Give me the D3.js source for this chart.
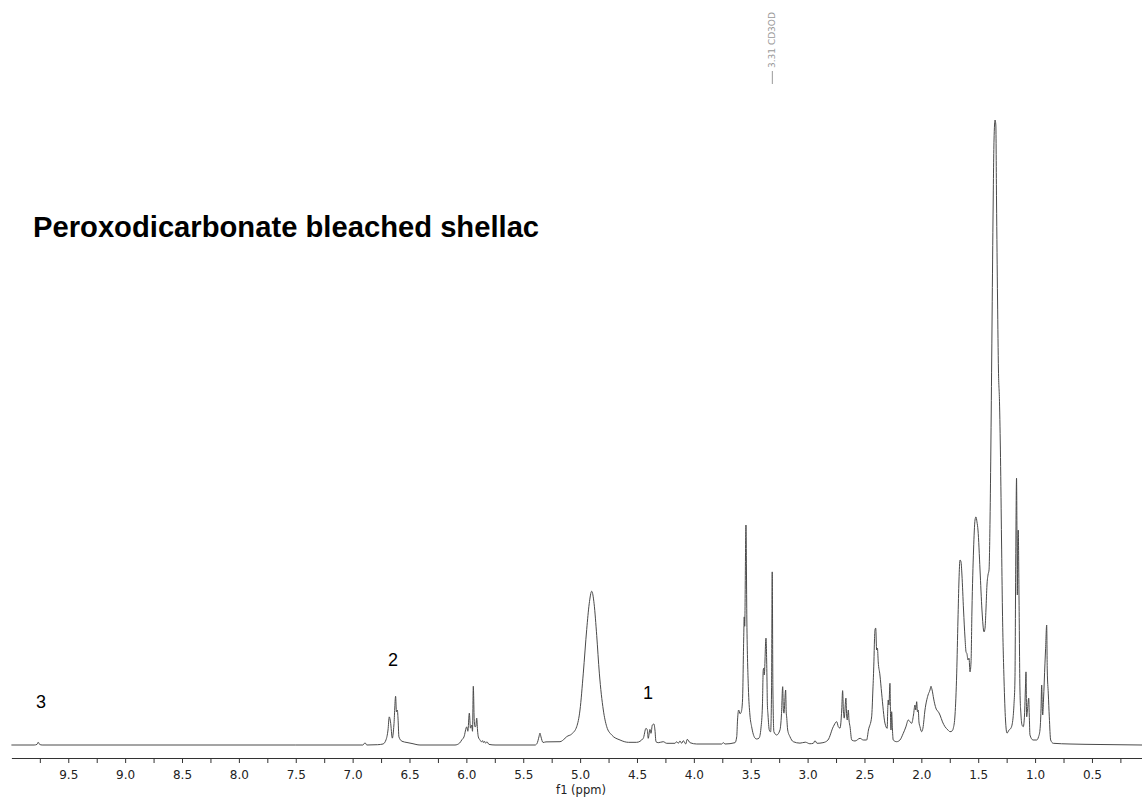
<!DOCTYPE html>
<html>
<head>
<meta charset="utf-8">
<script src="https://cdn.jsdelivr.net/npm/d3@7"></script>
<style>
  body { margin: 0; background: #fff; }
</style>
</head>
<body>
<script>
// Spectrum as [ppm, relative intensity] (tallest peak = 100)
var baselineLeft = [
  [10.00, 0], [9.80, 0], [9.775, 0.1], [9.764, 0.45], [9.752, 0.1], [9.73, 0],
  [8.50, 0], [7.50, 0], [6.91, 0], [6.891, 0.35], [6.875, 0], [6.78, 0.05],
  [6.733, 0.16], [6.707, 0.8], [6.689, 2.4]
];
var signal2 = [
  [6.678, 4.5], [6.667, 3.7], [6.651, 1.1], [6.637, 3.2], [6.622, 7.8], [6.615, 5.3],
  [6.607, 5.6], [6.601, 4.3], [6.593, 1.3], [6.566, 0.6], [6.522, 0.4], [6.478, 0.24],
  [6.408, 0], [6.100, 0]
];
var signal595 = [
  [6.060, 0.3], [6.041, 0.8], [6.021, 1.3], [5.997, 2.9], [5.987, 2.2], [5.974, 5.1],
  [5.964, 2.7], [5.953, 3.2], [5.946, 2.2], [5.939, 9.4], [5.931, 4.0], [5.924, 2.9],
  [5.917, 3.0], [5.909, 4.3], [5.902, 2.4], [5.895, 1.3], [5.880, 0.8], [5.867, 0.5],
  [5.858, 0.7], [5.850, 0.4], [5.841, 0.6], [5.832, 0.3], [5.819, 0.5], [5.801, 0.1],
  [5.748, 0], [5.396, 0]
];
var signal490 = [
  [5.379, 0.24], [5.362, 1.3], [5.353, 1.9], [5.344, 1.3], [5.326, 0.4], [5.300, 0.5],
  [5.177, 0.53], [5.133, 1.07], [5.118, 1.33], [5.074, 1.76], [5.030, 2.93], [5.001, 5.6],
  [4.972, 11.5], [4.942, 18.5], [4.920, 22.6], [4.898, 24.6], [4.877, 22.6], [4.854, 17.5],
  [4.831, 11.5], [4.796, 5.6], [4.766, 2.93], [4.722, 1.6], [4.649, 0.8], [4.576, 0.43],
  [4.503, 0.43]
];
var signal1 = [
  [4.445, 1.07], [4.421, 2.67], [4.409, 2.4], [4.401, 1.07], [4.386, 2.5], [4.377, 1.87],
  [4.365, 3.2], [4.351, 3.36], [4.342, 2.4], [4.333, 0.53], [4.313, 0.37], [4.269, 0.53],
  [4.239, 0.27], [4.166, 0.27], [4.151, 0.53], [4.137, 0.27], [4.122, 0.64], [4.107, 0.27],
  [4.093, 0.69], [4.072, 0.16], [4.058, 0.91], [4.034, 0.37], [3.975, 0.16], [3.755, 0.16],
  [3.741, 0.37], [3.726, 0.16], [3.638, 0.37]
];
var signal35 = [
  [3.623, 1.33], [3.616, 4.0], [3.606, 5.6], [3.594, 5.0], [3.583, 5.3], [3.572, 7.2],
  [3.562, 16.8], [3.557, 20.5], [3.553, 19.0], [3.542, 35.2], [3.534, 20.0], [3.521, 9.33],
  [3.507, 4.8], [3.492, 2.93], [3.463, 1.12], [3.448, 0.96], [3.427, 1.1], [3.410, 2.7],
  [3.397, 6.4], [3.390, 12.0], [3.385, 12.3], [3.381, 11.2], [3.366, 17.1], [3.357, 10.4],
  [3.354, 6.7], [3.348, 4.8], [3.337, 2.4], [3.325, 2.1], [3.317, 8.8], [3.311, 27.7],
  [3.305, 8.8], [3.296, 2.1], [3.272, 1.6], [3.243, 2.4], [3.230, 4.8], [3.219, 9.33],
  [3.213, 5.6], [3.208, 5.1], [3.193, 8.8], [3.188, 5.3], [3.184, 4.5], [3.175, 2.4],
  [3.155, 1.33], [3.126, 0.53], [3.067, 0.3], [3.02, 0.45], [2.98, 0.2], [2.950, 0.27],
  [2.935, 0.69], [2.917, 0.27], [2.865, 0.37], [2.821, 0.8]
];
var signal27 = [
  [2.774, 2.93], [2.744, 3.73], [2.730, 2.93], [2.715, 2.7], [2.700, 5.6], [2.692, 8.7],
  [2.685, 5.3], [2.678, 4.3], [2.663, 7.5], [2.657, 4.8], [2.651, 4.0], [2.642, 5.6],
  [2.636, 4.0], [2.627, 2.93], [2.612, 0.8], [2.583, 0.64], [2.539, 1.07], [2.510, 0.8],
  [2.481, 0.8]
];
var signal24 = [
  [2.465, 2.4], [2.437, 4.5], [2.426, 8.8], [2.417, 13.3], [2.412, 16.8], [2.408, 18.4],
  [2.401, 18.7], [2.393, 15.2], [2.386, 15.5], [2.379, 13.3], [2.364, 11.2], [2.349, 8.3],
  [2.320, 3.5], [2.300, 2.67], [2.296, 5.3], [2.291, 7.2], [2.285, 6.4], [2.276, 9.87],
  [2.271, 4.8], [2.267, 2.4], [2.261, 5.33], [2.254, 2.4], [2.247, 0.8], [2.217, 0.53],
  [2.188, 0.8]
];
var signal20 = [
  [2.159, 1.87], [2.136, 2.9], [2.115, 4.0], [2.085, 3.47], [2.069, 4.8], [2.056, 6.4],
  [2.049, 5.6], [2.041, 6.93], [2.034, 5.3], [2.027, 5.6], [2.021, 3.7], [2.012, 2.93],
  [1.997, 2.13], [1.986, 2.7], [1.968, 5.6], [1.941, 8.0], [1.924, 8.8], [1.915, 9.4],
  [1.909, 9.07], [1.902, 8.5], [1.895, 7.73], [1.880, 6.4], [1.865, 5.6], [1.854, 5.4],
  [1.836, 4.8], [1.814, 3.7], [1.792, 2.93], [1.766, 2.4], [1.748, 2.13], [1.730, 2.24],
  [1.719, 2.67]
];
var signal15 = [
  [1.704, 4.8], [1.689, 11.5], [1.678, 20.0], [1.669, 26.4], [1.660, 29.6], [1.651, 29.3],
  [1.643, 27.2], [1.629, 21.6], [1.616, 17.1], [1.607, 14.9], [1.599, 14.6], [1.590, 13.6],
  [1.581, 13.9], [1.572, 11.7], [1.563, 13.3], [1.555, 21.6], [1.541, 31.2], [1.528, 36.0],
  [1.520, 36.5], [1.511, 35.7], [1.502, 34.4], [1.484, 28.0], [1.467, 21.6], [1.449, 18.1],
  [1.440, 18.7], [1.432, 21.6], [1.423, 25.6], [1.414, 27.2], [1.405, 28.0], [1.396, 36.0],
  [1.388, 48.8], [1.379, 66.4], [1.370, 84.0], [1.361, 96.8], [1.352, 100], [1.345, 99.2],
  [1.339, 87.2], [1.330, 71.2], [1.322, 60.0], [1.313, 55.0], [1.304, 46.0], [1.295, 32.8],
  [1.287, 21.6], [1.273, 10.4], [1.260, 4.0]
];
var signal12 = [
  [1.247, 1.9], [1.229, 2.4], [1.212, 2.7], [1.194, 4.3], [1.185, 6.67], [1.177, 10.4],
  [1.170, 29.6], [1.163, 42.7], [1.159, 32.8], [1.156, 24.0], [1.152, 32.0], [1.148, 34.4],
  [1.141, 23.2], [1.133, 8.8], [1.124, 4.8], [1.115, 3.2], [1.104, 2.93], [1.093, 4.8],
  [1.084, 9.6], [1.080, 11.7], [1.074, 4.5], [1.067, 5.6], [1.056, 7.5], [1.051, 4.8],
  [1.045, 1.6], [1.018, 0.8], [0.986, 0.8], [0.970, 1.28], [0.957, 2.4], [0.948, 5.6],
  [0.942, 9.6], [0.937, 6.4], [0.933, 4.8], [0.926, 7.2], [0.913, 13.1], [0.908, 15.2],
  [0.898, 19.2], [0.893, 12.0], [0.884, 8.3], [0.875, 4.5], [0.863, 0.8], [0.840, 0.27],
  [0.693, 0.16], [0.429, 0.08], [0.06, 0]
];

var tickValues = [9.75, 9.5, 9.25, 9.0, 8.75, 8.5, 8.25, 8.0, 7.75, 7.5, 7.25, 7.0, 6.75, 6.5,
  6.25, 6.0, 5.75, 5.5, 5.25, 5.0, 4.75, 4.5, 4.25, 4.0, 3.75, 3.5, 3.25, 3.0, 2.75, 2.5,
  2.25, 2.0, 1.75, 1.5, 1.25, 1.0, 0.75, 0.5, 0.25];
var tickLabels = ["9.5", "9.0", "8.5", "8.0", "7.5", "7.0", "6.5", "6.0", "5.5", "5.0",
  "4.5", "4.0", "3.5", "3.0", "2.5", "2.0", "1.5", "1.0", "0.5"];

var peakLabels = [
  { text: "3", ppm: 9.74, height: 6.0 },
  { text: "2", ppm: 6.645, height: 12.6 },
  { text: "1", ppm: 4.403, height: 7.4 }
];
var solventLabel = { text: "3.31 CD3OD", ppm: 3.31 };
var title = "Peroxodicarbonate bleached shellac";
var axisTitle = "f1 (ppm)";

document.addEventListener("DOMContentLoaded", function(e) {
  var svg = d3.select("body")
              .append("svg")
              .attr("width", 1142)
              .attr("height", 801);

  // ppm runs right to left, as usual for NMR
  var x = d3.scaleLinear().domain([10.0, 0.06]).range([11.4, 1142]);
  var y = d3.scaleLinear().domain([0, 100]).range([745, 120]);

  var spectrum = [].concat(baselineLeft, signal2, signal595, signal490, signal1,
                           signal35, signal27, signal24, signal20, signal15, signal12);

  var line = d3.line()
               .x(function(d) { return x(d[0]); })
               .y(function(d) { return y(d[1]); })
               .curve(d3.curveMonotoneX);

  svg.append("path")
     .datum(spectrum)
     .attr("d", line)
     .attr("fill", "none")
     .attr("stroke", "#4a4a4a")
     .attr("stroke-width", 1)
     .attr("stroke-linejoin", "round");

  // bottom axis
  var labelled = tickLabels.map(Number);
  var axis = d3.axisBottom(x)
               .tickValues(tickValues)
               .tickSize(5)
               .tickSizeOuter(0)
               .tickPadding(7)
               .tickFormat(function(d) { return labelled.indexOf(d) >= 0 ? d.toFixed(1) : ""; });

  var gx = svg.append("g")
              .attr("transform", "translate(0,758)")
              .attr("color", "#333")
              .call(axis);
  gx.selectAll("text")
    .attr("font-family", "DejaVu Sans, Verdana, sans-serif")
    .attr("font-size", 12)
    .attr("fill", "#222");

  svg.append("text")
     .attr("x", 581)
     .attr("y", 794)
     .attr("text-anchor", "middle")
     .attr("font-family", "DejaVu Sans, Verdana, sans-serif")
     .attr("font-size", 11.5)
     .attr("fill", "#222")
     .text(axisTitle);

  // title
  svg.append("text")
     .attr("x", 33)
     .attr("y", 237)
     .attr("font-family", "Liberation Sans, Arial, sans-serif")
     .attr("font-weight", "bold")
     .attr("font-size", 29.2)
     .attr("fill", "#000")
     .text(title);

  // peak numbers
  svg.selectAll(".peak-label")
     .data(peakLabels)
     .enter()
     .append("text")
     .attr("class", "peak-label")
     .attr("x", function(d) { return x(d.ppm); })
     .attr("y", function(d) { return y(d.height); })
     .attr("text-anchor", "middle")
     .attr("font-family", "Liberation Sans, Arial, sans-serif")
     .attr("font-size", 18)
     .attr("fill", "#000")
     .text(function(d) { return d.text; });

  // solvent marker at the top
  var sx = x(solventLabel.ppm);
  svg.append("line")
     .attr("x1", sx).attr("x2", sx)
     .attr("y1", 84).attr("y2", 71)
     .attr("stroke", "#999")
     .attr("stroke-width", 1);
  svg.append("text")
     .attr("transform", "translate(" + (sx + 3) + ",68) rotate(-90)")
     .attr("font-family", "DejaVu Sans, Verdana, sans-serif")
     .attr("font-size", 9)
     .attr("fill", "#999")
     .text(solventLabel.text);
});
</script>
</body>
</html>
